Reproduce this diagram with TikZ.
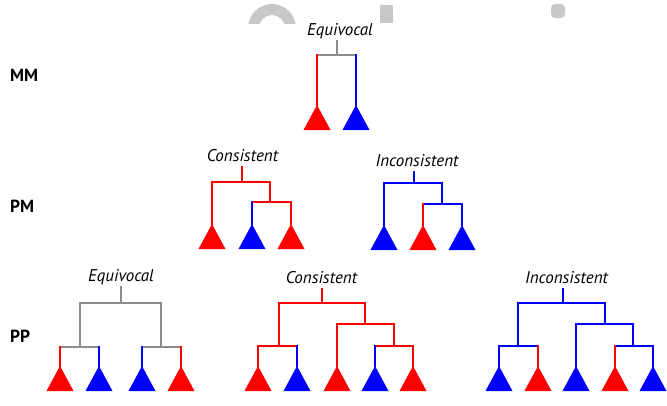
\documentclass[tikz,border=0pt]{standalone}
\usepackage{fontspec}
\setmainfont{PT Sans}
\usetikzlibrary{shapes.geometric, positioning}
\definecolor{treered}{RGB}{255, 0, 0}
\definecolor{treeblue}{RGB}{0, 0, 255}
\definecolor{treegray}{RGB}{140, 140, 140}
\definecolor{markgray}{RGB}{200, 200, 200}
\tikzset{
    branch/.style={line width=2pt, line cap=rect},
    redline/.style={branch, treered},
    blueline/.style={branch, treeblue},
    grayline/.style={branch, treegray},
    tip/.style={isosceles triangle, isosceles triangle stretches, shape border rotate=90, minimum width=27pt, minimum height=25pt, inner sep=0pt, outer sep=0pt, anchor=apex},
    tipred/.style={tip, fill=treered},
    tipblue/.style={tip, fill=treeblue},
    treelabel/.style={font=\itshape\fontsize{17}{20}\selectfont, inner sep=0pt, outer ysep=6pt, text depth=0pt, anchor=base},
    rowlabel/.style={font=\bfseries\fontsize{17.5}{20}\selectfont, inner sep=0pt, anchor=base west}
}
\begin{document}
\begin{tikzpicture}[x=1pt, y=-1pt]
    \useasboundingbox (0,0) rectangle (667,405);

    % --- WATERMARK REMNANTS ---
    \begin{scope}
        \clip (240,0) rectangle (305,23);
        \fill[markgray, even odd rule] (272,28) circle (24pt) (272,28) circle (13pt);
    \end{scope}
    \fill[markgray] (380,5) rectangle (393,23);
    \fill[markgray, rounded corners=4pt] (551,4) rectangle (565,18);

    % --- ROW LABELS ---
    \node[rowlabel] (mm) at (10,81) {MM};
    \node[rowlabel] (pm) at (10,212) {PM};
    \node[rowlabel] (pp) at (10,342) {PP};

    % --- MM: equivocal ---
    \node[treelabel] (mmlab) at (340,35) {Equivocal};
    \coordinate (mm0) at (337,55);
    \node[tipred] (mm1) at (317,105) {};
    \node[tipblue] (mm2) at (356,105) {};
    \draw[grayline] (mm0) -- (mm0 |- mmlab.south);
    \draw[grayline] (mm1 |- mm0) -- (mm2 |- mm0);
    \draw[redline] (mm1.apex) -- (mm1 |- mm0);
    \draw[blueline] (mm2.apex) -- (mm2 |- mm0);

    % --- PM: consistent ---
    \node[treelabel] (pclab) at (242.5,161) {Consistent};
    \coordinate (pc0) at (242,182);
    \coordinate (pc1) at (270,202);
    \node[tipred] (pc2) at (212,224) {};
    \node[tipblue] (pc3) at (252,224) {};
    \node[tipred] (pc4) at (291,224) {};
    \draw[redline] (pc0) -- (pc0 |- pclab.south);
    \draw[redline] (pc2.apex) |- (pc1 |- pc0) -- (pc1);
    \draw[redline] (pc3 |- pc1) -| (pc4.apex);
    \draw[blueline] (pc3.apex) -- (pc3 |- pc1);

    % --- PM: inconsistent ---
    \node[treelabel] (pilab) at (417,166) {Inconsistent};
    \coordinate (pi0) at (414,183);
    \coordinate (pi1) at (442,204);
    \node[tipblue] (pi2) at (384,225) {};
    \node[tipred] (pi3) at (423,225) {};
    \node[tipblue] (pi4) at (462,225) {};
    \draw[blueline] (pi0) -- (pi0 |- pilab.south);
    \draw[blueline] (pi2.apex) |- (pi1 |- pi0) -- (pi1);
    \draw[blueline] (pi3 |- pi1) -| (pi4.apex);
    \draw[redline] (pi3.apex) -- (pi3 |- pi1);

    % --- PP: equivocal ---
    \node[treelabel] (pelab) at (121,281) {Equivocal};
    \coordinate (pe0) at (121,303);
    \coordinate (pe1) at (80,347);
    \coordinate (pe2) at (161,347);
    \node[tipred] (pe3) at (60,366) {};
    \node[tipblue] (pe4) at (99,366) {};
    \node[tipblue] (pe5) at (142,366) {};
    \node[tipred] (pe6) at (181,366) {};
    \draw[grayline] (pe0) -- (pe0 |- pelab.south);
    \draw[grayline] (pe1) |- (pe0) -| (pe2);
    \draw[grayline] (pe3 |- pe1) -- (pe4 |- pe1);
    \draw[grayline] (pe5 |- pe2) -- (pe6 |- pe2);
    \draw[redline] (pe3.apex) -- (pe3 |- pe1);
    \draw[blueline] (pe4.apex) -- (pe4 |- pe1);
    \draw[blueline] (pe5.apex) -- (pe5 |- pe2);
    \draw[redline] (pe6.apex) -- (pe6 |- pe2);

    % --- PP: consistent ---
    \node[treelabel] (pplab) at (321.5,283) {Consistent};
    \coordinate (pp0) at (322,303);
    \coordinate (pp1) at (279,346);
    \coordinate (pp2) at (365,324);
    \coordinate (pp3) at (394,346);
    \node[tipred] (pp4) at (258,366) {};
    \node[tipblue] (pp5) at (297,366) {};
    \node[tipred] (pp6) at (337,366) {};
    \node[tipblue] (pp7) at (375,366) {};
    \node[tipred] (pp8) at (413,366) {};
    \draw[redline] (pp0) -- (pp0 |- pplab.south);
    \draw[redline] (pp1) |- (pp0) -| (pp2);
    \draw[redline] (pp6.apex) |- (pp2) -| (pp3);
    \draw[redline] (pp4.apex) |- (pp1) -| (pp5 |- pp1);
    \draw[redline] (pp7 |- pp3) -| (pp8.apex);
    \draw[blueline] (pp5.apex) -- (pp5 |- pp1);
    \draw[blueline] (pp7.apex) -- (pp7 |- pp3);

    % --- PP: inconsistent ---
    \node[treelabel] (pqlab) at (566.5,283) {Inconsistent};
    \coordinate (pq0) at (563,303);
    \coordinate (pq1) at (518,346);
    \coordinate (pq2) at (605,324);
    \coordinate (pq3) at (633,346);
    \node[tipblue] (pq4) at (499,366) {};
    \node[tipred] (pq5) at (538,366) {};
    \node[tipblue] (pq6) at (576,366) {};
    \node[tipred] (pq7) at (615,366) {};
    \node[tipblue] (pq8) at (653,366) {};
    \draw[blueline] (pq0) -- (pq0 |- pqlab.south);
    \draw[blueline] (pq1) |- (pq0) -| (pq2);
    \draw[blueline] (pq6.apex) |- (pq2) -| (pq3);
    \draw[blueline] (pq4.apex) |- (pq1) -| (pq5 |- pq1);
    \draw[blueline] (pq7 |- pq3) -| (pq8.apex);
    \draw[redline] (pq5.apex) -- (pq5 |- pq1);
    \draw[redline] (pq7.apex) -- (pq7 |- pq3);

\end{tikzpicture}
\end{document}
